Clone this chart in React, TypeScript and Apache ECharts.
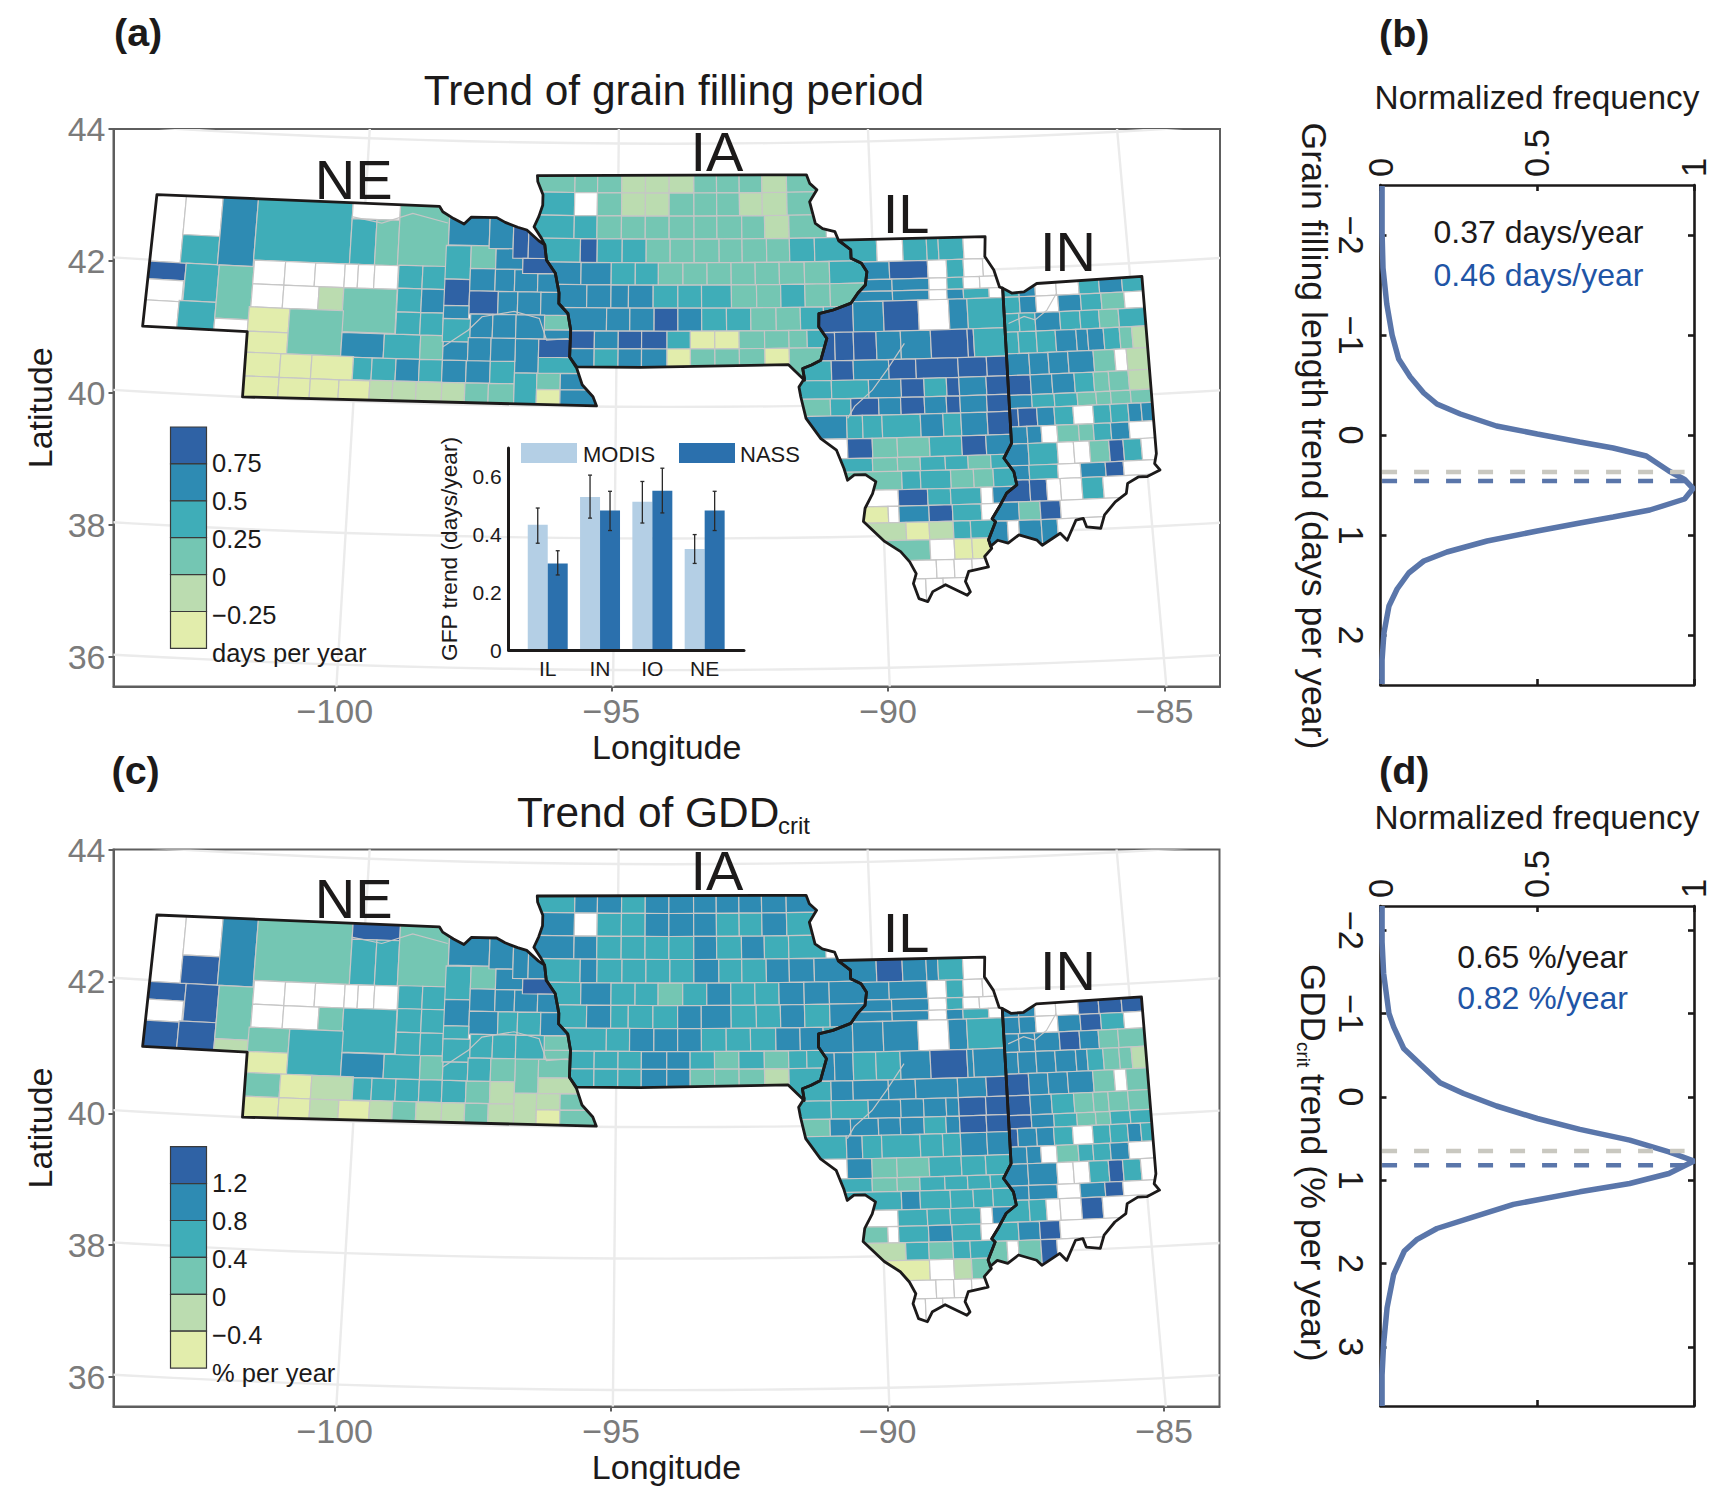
import React, { useEffect, useRef } from "react";
import * as echarts from "echarts";

const FONT = '"Liberation Sans", Arial, sans-serif';
const CLASS_COLORS = ["#ffffff", "#e2edac", "#bbdcb0", "#74c6b3", "#3fadb8", "#2e8bb3", "#2f62a5"];

// Row blocks: [north lat, south lat, lon edges, classes in panel (a), classes in panel (c)]
const NE_BLOCKS: any[] = [
  [43.2, 41.98, [-104.4, -103.55], "0", "0"],
  [41.98, 41.71, [-104.4, -103.43], "6", "6"],
  [41.71, 41.39, [-104.4, -103.45], "0", "0"],
  [41.39, 40.9, [-104.4, -103.5], "0", "6"],
  [43.2, 42.41, [-103.55, -102.82], "0", "0"],
  [42.41, 41.98, [-103.55, -102.82], "4", "6"],
  [41.98, 41.41, [-103.43, -102.78], "4", "6"],
  [41.41, 40.9, [-103.5, -102.78], "4", "6"],
  [43.2, 41.98, [-102.82, -102.12], "5", "5"],
  [41.98, 41.17, [-102.78, -102.1], "3", "3"],
  [41.17, 40.9, [-102.78, -102.13], "0", "2"],
  [43.2, 42.08, [-102.12, -100.24], "4", "3"],
  [43.2, 42.77, [-100.24, -99.3], "0", "6"],
  [42.77, 42.08, [-100.24, -99.75, -99.3], "43", "44"],
  [43.2, 42.05, [-99.3, -98.32], "3", "3"],
  [42.08, 41.72, [-102.1, -101.49, -100.9, -100.32, -100.06, -99.74, -99.28], "000000", "000000"],
  [41.72, 41.37, [-102.1, -101.49, -100.8, -100.32], "002", "003"],
  [41.72, 41.05, [-100.32, -99.28], "3", "4"],
  [41.37, 41.0, [-102.13, -101.34], "1", "3"],
  [41.0, 40.68, [-102.13, -101.34], "1", "1"],
  [41.37, 40.68, [-101.34, -100.3], "3", "4"],
  [41.04, 40.67, [-100.3, -99.48, -98.78, -98.34], "543", "543"],
  [40.68, 40.32, [-102.13, -101.45, -100.85, -100.05], "111", "312"],
  [40.32, 39.9, [-102.13, -101.45, -100.85, -100.3, -99.71], "1111", "1121"],
  [40.67, 40.33, [-100.05, -99.69, -99.23, -98.78, -98.34, -97.88, -97.42, -96.95], "4454554", "4444432"],
  [40.33, 39.9, [-99.71, -99.27, -98.82, -98.33, -97.89, -97.44, -96.95], "222233", "232232"],
  [40.5, 39.9, [-96.95, -96.52], "4", "2"],
  [41.02, 40.5, [-96.95, -96.5], "5", "3"],
  [40.5, 40.25, [-96.52, -96.07, -95.4], "35", "23"],
  [40.25, 39.9, [-96.52, -96.07, -95.2], "15", "13"],
  [40.74, 40.5, [-96.5, -95.5], "4", "2"],
  [41.02, 40.74, [-96.5, -95.7], "6", "3"],
  [41.16, 41.02, [-96.4, -95.7], "5", "3"],
  [41.38, 41.16, [-96.4, -95.7], "3", "3"],
  [42.09, 41.74, [-99.27, -98.8, -98.33], "44", "44"],
  [41.74, 41.38, [-99.27, -98.8, -98.33], "45", "44"],
  [41.38, 41.04, [-99.27, -98.8, -98.36], "44", "44"],
  [42.41, 41.9, [-98.36, -97.87], "4", "4"],
  [41.9, 41.5, [-98.36, -97.87], "6", "5"],
  [42.42, 42.07, [-97.87, -97.38], "3", "3"],
  [42.07, 41.73, [-97.87, -97.38, -97.0, -96.55], "555", "555"],
  [43.1, 42.42, [-98.32, -97.52], "5", "5"],
  [43.1, 42.38, [-97.52, -97.05], "5", "5"],
  [42.38, 42.07, [-97.38, -96.85], "5", "5"],
  [43.1, 42.24, [-97.05, -96.75, -96.2], "66", "55"],
  [42.24, 42.01, [-96.85, -96.0], "6", "6"],
  [42.01, 41.65, [-96.55, -95.9], "5", "5"],
  [41.73, 41.38, [-97.87, -97.31, -96.93, -96.48, -95.8], "6555", "5445"],
  [41.5, 41.3, [-98.36, -97.87], "5", "4"],
  [41.3, 40.95, [-98.36, -97.83], "4", "4"],
  [40.95, 40.67, [-98.34, -97.86], "5", "4"],
  [41.38, 41.02, [-97.83, -97.4, -96.95, -96.4], "555", "444"],
  [41.02, 40.67, [-97.86, -97.42, -96.95], "55", "43"],
];

const IA_BLOCKS: any[] = [
  [43.6, 43.25, [-96.8, -95.86, -95.41, -94.93, -94.46, -93.99, -93.5, -93.05, -92.6, -92.15, -91.66, -90.9], "33322233323", "45545555555"],
  [43.25, 42.9, [-96.8, -95.86, -95.41, -94.93, -94.46, -93.99, -93.5, -93.05, -92.6, -92.15, -91.66, -90.9], "40322333223", "50445554454"],
  [42.9, 42.55, [-96.8, -95.86, -95.41, -94.93, -94.46, -93.99, -93.5, -93.05, -92.56, -92.11, -91.63, -90.9], "44333333323", "55444454544"],
  [42.55, 42.19, [-96.8, -95.73, -95.4, -94.91, -94.44, -93.97, -93.5, -93.01, -92.56, -92.08, -91.63, -91.14, -90.3], "464433333344", "454444544555"],
  [42.19, 41.85, [-96.8, -95.71, -95.12, -94.65, -94.2, -93.72, -93.25, -92.78, -92.31, -91.84, -91.35, -90.86, -90.0], "554433333334", "454434544555"],
  [41.85, 41.5, [-96.5, -95.59, -95.12, -94.78, -94.3, -93.82, -93.36, -92.78, -92.29, -91.82, -91.35, -90.86, -90.0], "555544433433", "454445544545"],
  [41.5, 41.15, [-96.3, -95.2, -94.75, -94.28, -93.82, -93.36, -92.88, -92.41, -91.92, -91.45, -91.0, -90.5], "55565443344", "44555444554"],
  [41.15, 40.88, [-96.1, -95.43, -94.97, -94.52, -94.03, -93.58, -93.11, -92.64, -92.15, -91.68, -91.33, -90.9], "65664113334", "44455434344"],
  [40.88, 40.4, [-96.1, -95.43, -94.97, -94.52, -94.03, -93.58, -93.11, -92.64, -92.15, -91.68, -91.0], "5455133313", "4445533324"],
];

const IL_BLOCKS: any[] = [
  [42.6, 42.17, [-91, -89.92, -89.41, -88.94, -88.71, -88.22, -87.5], "404440", "565540"],
  [42.17, 41.9, [-91, -89.69, -88.94, -88.57, -88.24, -87.86, -87.5], "560400", "550400"],
  [41.9, 41.72, [-91, -89.65, -88.93, -88.58, -88.26, -87.94, -87.49], "550400", "550400"],
  [41.72, 41.57, [-91, -89.65, -88.94, -88.59, -88.27, -87.77, -87.5], "550540", "550540"],
  [41.57, 41.11, [-91.2, -90.43, -89.84, -89.16, -88.57, -88.21, -87.48], "656054", "555054"],
  [41.11, 40.68, [-91.3, -90.8, -90.44, -90.0, -89.53, -88.95, -88.24, -88.12, -87.47], "66655664", "55445655"],
  [40.68, 40.38, [-91.6, -90.88, -90.46, -89.78, -89.26, -88.45, -87.9, -87.46], "4656666", "4555556"],
  [40.38, 40.1, [-91.6, -90.89, -90.18, -89.56, -89.12, -88.69, -88.45, -87.93, -87.48], "44564656", "44555566"],
  [40.1, 39.84, [-91.6, -90.92, -90.53, -90.0, -89.58, -89.13, -88.71, -88.45, -87.94, -87.5], "346565656", "355554566"],
  [39.84, 39.49, [-91.6, -90.62, -90.32, -89.95, -89.22, -88.79, -88.45, -87.95, -87.49], "54445456", "45444455"],
  [39.49, 39.19, [-91.6, -90.62, -90.15, -89.68, -89.07, -88.46, -88.0, -87.52], "0633465", "0533444"],
  [39.19, 38.98, [-91, -90.16, -89.69, -89.26, -88.79, -88.36, -87.93, -87.4], "4334434", "4334444"],
  [38.98, 38.7, [-91, -89.62, -89.27, -88.7, -88.27, -87.9, -87.4], "344334", "454444"],
  [38.7, 38.45, [-91, -89.7, -89.15, -88.72, -88.15, -87.93, -87.4], "064405", "044405"],
  [38.45, 38.2, [-91, -89.9, -89.7, -89.14, -88.7, -88.16, -87.4], "105640", "304540"],
  [38.2, 37.93, [-91, -89.58, -89.15, -88.7, -88.38, -87.8], "21244", "24344"],
  [37.93, 37.62, [-91, -89.15, -88.7, -88.37, -87.9], "3011", "1023"],
  [37.62, 37.34, [-90, -89.05, -88.72, -88.39, -87.9], "0000", "0000"],
  [37.34, 36.9, [-90, -89.26, -88.94, -88.3], "000", "000"],
];

const IN_BLOCKS: any[] = [
  [41.9, 41.57, [-87.8, -87.19, -86.87, -86.46, -86.02, -85.62, -85.17, -84.5], "4500454", "5500666"],
  [41.57, 41.32, [-87.8, -87.19, -86.87, -86.44, -86.0, -85.6, -85.15, -84.5], "4505430", "5505640"],
  [41.32, 41.04, [-87.8, -87.22, -86.91, -86.43, -86.04, -85.67, -85.29, -84.5], "4454434", "5556533"],
  [41.04, 40.71, [-87.8, -87.26, -86.91, -86.54, -86.14, -85.92, -85.61, -85.3, -85.06, -84.5], "444555432", "555554332"],
  [40.71, 40.38, [-87.8, -87.08, -86.71, -86.33, -85.84, -85.43, -85.2, -84.5], "5555302", "6555303"],
  [40.38, 40.08, [-87.8, -87.08, -86.67, -86.24, -85.87, -85.58, -85.2, -84.5], "6554332", "6543333"],
  [40.08, 39.88, [-87.8, -87.08, -86.65, -86.21, -85.85, -85.57, -85.19, -84.5], "5443333", "6543344"],
  [39.88, 39.6, [-87.8, -87.36, -87.0, -86.67, -86.31, -85.93, -85.6, -85.26, -85.01, -84.5], "665404455", "655404454"],
  [39.6, 39.34, [-87.8, -87.21, -86.94, -86.64, -86.23, -85.95, -85.62, -85.27, -84.5], "55033450", "55034450"],
  [39.34, 39.01, [-87.8, -87.21, -86.66, -86.35, -86.05, -85.68, -85.41, -85.07, -84.5], "54003640", "55004640"],
  [39.01, 38.79, [-87.9, -87.22, -86.68, -86.25, -85.78, -85.44, -84.5], "540560", "550560"],
  [38.79, 38.46, [-88, -87.23, -86.91, -86.65, -86.25, -85.85, -84.5], "660040", "440060"],
  [38.46, 38.18, [-88.2, -87.46, -87.06, -86.68, -84.5], "5360", "4560"],
  [38.18, 37.6, [-88.2, -87.69, -87.48, -87.06, -86.76, -84.5], "50550", "30360"],
];

const NE_OUTLINE = [[-104.14, 42.99], [-98.53, 43.0], [-98.46, 42.92], [-98.24, 42.82], [-98.03, 42.74], [-97.89, 42.85], [-97.39, 42.85], [-97.22, 42.78], [-96.97, 42.71], [-96.79, 42.67], [-96.55, 42.51], [-96.43, 42.45], [-96.39, 42.22], [-96.21, 42.02], [-96.13, 41.72], [-96.13, 41.56], [-95.95, 41.41], [-95.89, 41.16], [-95.9, 40.75], [-95.76, 40.58], [-95.65, 40.33], [-95.44, 40.15], [-95.37, 40.01], [-102.12, 40.0], [-102.13, 40.99], [-104.16, 40.99]];
const IA_OUTLINE = [[-96.61, 43.5], [-91.26, 43.51], [-91.2, 43.38], [-91.06, 43.28], [-91.21, 43.1], [-91.11, 42.77], [-90.97, 42.69], [-90.73, 42.64], [-90.66, 42.5], [-90.43, 42.36], [-90.43, 42.23], [-90.23, 42.15], [-90.13, 42.02], [-90.17, 41.82], [-90.32, 41.7], [-90.46, 41.55], [-90.81, 41.45], [-91.09, 41.4], [-91.1, 41.2], [-90.95, 41.02], [-91.08, 40.69], [-91.26, 40.62], [-91.43, 40.57], [-91.4, 40.39], [-91.7, 40.63], [-94.54, 40.6], [-95.76, 40.6], [-95.9, 40.75], [-95.89, 41.16], [-95.95, 41.41], [-96.13, 41.56], [-96.13, 41.72], [-96.21, 42.02], [-96.39, 42.22], [-96.43, 42.45], [-96.5, 42.55], [-96.65, 42.72], [-96.56, 42.88], [-96.49, 43.05], [-96.49, 43.21], [-96.6, 43.41]];
const IL_OUTLINE = [[-90.66, 42.51], [-87.78, 42.5], [-87.81, 42.2], [-87.65, 41.99], [-87.56, 41.73], [-87.5, 41.71], [-87.52, 39.35], [-87.68, 39.13], [-87.51, 38.92], [-87.47, 38.72], [-87.67, 38.6], [-87.82, 38.4], [-87.97, 38.22], [-87.91, 38.17], [-88.06, 37.9], [-88.01, 37.77], [-88.15, 37.65], [-88.09, 37.49], [-88.46, 37.43], [-88.53, 37.28], [-88.45, 37.12], [-88.51, 37.07], [-88.9, 37.24], [-89.14, 37.14], [-89.24, 36.99], [-89.4, 37.04], [-89.49, 37.27], [-89.43, 37.42], [-89.54, 37.6], [-89.7, 37.76], [-89.99, 37.92], [-90.37, 38.23], [-90.33, 38.43], [-90.18, 38.65], [-90.11, 38.83], [-90.3, 38.94], [-90.51, 38.94], [-90.64, 38.86], [-90.7, 39.04], [-90.83, 39.32], [-91.12, 39.5], [-91.39, 39.81], [-91.48, 40.14], [-91.51, 40.29], [-91.4, 40.42], [-91.43, 40.57], [-91.26, 40.62], [-91.08, 40.69], [-90.95, 41.02], [-91.1, 41.2], [-91.09, 41.4], [-90.81, 41.45], [-90.46, 41.55], [-90.32, 41.7], [-90.17, 41.82], [-90.13, 42.02], [-90.23, 42.15], [-90.43, 42.23], [-90.43, 42.36]];
const IN_OUTLINE = [[-87.5, 41.71], [-87.33, 41.63], [-87.09, 41.64], [-86.83, 41.76], [-84.77, 41.79], [-84.8, 39.1], [-84.85, 38.95], [-84.76, 38.85], [-85.01, 38.76], [-85.18, 38.76], [-85.39, 38.67], [-85.43, 38.52], [-85.65, 38.4], [-85.87, 38.21], [-85.96, 38.01], [-86.22, 38.04], [-86.27, 38.17], [-86.41, 38.15], [-86.6, 37.85], [-86.72, 37.96], [-87.07, 37.79], [-87.16, 37.87], [-87.49, 37.96], [-87.7, 37.84], [-87.89, 37.89], [-88.03, 37.8], [-88.06, 37.9], [-87.91, 38.17], [-87.97, 38.22], [-87.82, 38.4], [-87.67, 38.6], [-87.47, 38.72], [-87.51, 38.92], [-87.68, 39.13], [-87.52, 39.35]];

// County lines that follow rivers
const RIVERS = [
  [[-98.34, 40.87], [-97.87, 41.13], [-97.61, 41.34], [-96.99, 41.43], [-96.5, 41.33], [-96.35, 41.0], [-95.94, 41.03]],
  [[-100.25, 42.8], [-99.65, 42.72], [-99.05, 42.88], [-98.35, 42.75]],
  [[-89.46, 40.92], [-89.82, 40.52], [-90.11, 40.22], [-90.46, 39.98], [-90.6, 39.8]],
  [[-87.43, 41.17], [-87.12, 41.27], [-86.91, 41.21], [-86.67, 41.35], [-86.46, 41.6]],
];

const MERIDIANS = [-100, -95, -90, -85];
const PARALLELS = [36, 38, 40, 42, 44];
const LON_TICKS = [-100, -95, -90, -85];
const LAT_TICKS = [36, 38, 40, 42, 44];

// Inset bars
const INSET_CATS = ["IL", "IN", "IO", "NE"];
const MODIS_VALS = [0.434, 0.53, 0.514, 0.35];
const MODIS_LOW = [0.37, 0.457, 0.44, 0.3];
const MODIS_HIGH = [0.492, 0.606, 0.584, 0.4];
const NASS_VALS = [0.3, 0.483, 0.552, 0.483];
const NASS_LOW = [0.26, 0.414, 0.475, 0.414];
const NASS_HIGH = [0.344, 0.55, 0.63, 0.55];

// Histogram curves: [normalized frequency, trend]
const CURVE_B = [[0.005, -2.49], [0.005, -2.03], [0.008, -1.67], [0.02, -1.31], [0.037, -1.0], [0.058, -0.76], [0.095, -0.58], [0.138, -0.42], [0.18, -0.31], [0.255, -0.21], [0.37, -0.09], [0.5, -0.01], [0.636, 0.07], [0.742, 0.13], [0.848, 0.21], [0.92, 0.36], [0.97, 0.445], [0.997, 0.535], [0.97, 0.64], [0.859, 0.75], [0.742, 0.82], [0.636, 0.88], [0.5, 0.96], [0.34, 1.06], [0.212, 1.17], [0.138, 1.26], [0.09, 1.38], [0.053, 1.54], [0.027, 1.71], [0.011, 1.98], [0.005, 2.25], [0.005, 2.49]];
const CURVE_D = [[0.005, -2.29], [0.005, -1.86], [0.01, -1.48], [0.027, -1.0], [0.042, -0.84], [0.074, -0.58], [0.127, -0.39], [0.19, -0.17], [0.265, -0.04], [0.37, 0.11], [0.5, 0.26], [0.636, 0.39], [0.795, 0.52], [0.92, 0.66], [1.0, 0.77], [0.92, 0.92], [0.795, 1.04], [0.636, 1.14], [0.424, 1.29], [0.297, 1.44], [0.18, 1.58], [0.117, 1.71], [0.076, 1.85], [0.042, 2.13], [0.021, 2.53], [0.01, 2.96], [0.005, 3.34], [0.005, 3.71]];

const LEGEND_A = ["0.75", "0.5", "0.25", "0", "\u22120.25"];
const LEGEND_C = ["1.2", "0.8", "0.4", "0", "\u22120.4"];

// Conic-like projection of lon/lat into the frame's axis coordinates
function project(lon: number, lat: number): number[] {
  const dl = lon + 93.95;
  const py = 176.6 + (43.5 - lat) * 65.8 - 0.15 * dl * dl;
  return [-93.92 + (dl * (py + 4911)) / 5597, 44 - (py - 129) / 66];
}

const minusFmt = (v: number) => (v < 0 ? "\u2212" + Math.abs(v) : String(v));

function stateSeries(xi: number, blocks: any[], outline: number[][], key: 3 | 4) {
  return {
    type: "custom",
    coordinateSystem: "cartesian2d",
    xAxisIndex: xi,
    yAxisIndex: xi,
    z: 3,
    silent: true,
    data: [[-94, 40]],
    renderItem: (_p: any, api: any) => {
      const toPx = (lon: number, lat: number) => api.coord(project(lon, lat));
      const children: any[] = [];
      blocks.forEach((b) => {
        const [n, s, edges] = b;
        const cls: string = b[key];
        for (let i = 0; i < edges.length - 1; i++) {
          children.push({
            type: "polygon",
            shape: { points: [toPx(edges[i], n), toPx(edges[i + 1], n), toPx(edges[i + 1], s), toPx(edges[i], s)] },
            style: { fill: CLASS_COLORS[+cls[i]], stroke: "#c6c6c6", lineWidth: 1.2 },
          });
        }
      });
      return {
        type: "group",
        clipPath: { type: "polygon", shape: { points: outline.map((p) => toPx(p[0], p[1])) } },
        children,
      };
    },
  };
}

function riverSeries(xi: number) {
  return {
    type: "custom",
    coordinateSystem: "cartesian2d",
    xAxisIndex: xi,
    yAxisIndex: xi,
    z: 3,
    silent: true,
    data: RIVERS.map((_, i) => [-94, 40, i]),
    renderItem: (p: any, api: any) => ({
      type: "polyline",
      shape: { points: RIVERS[p.dataIndex].map((q) => api.coord(project(q[0], q[1]))) },
      style: { fill: "none", stroke: "#c6c6c6", lineWidth: 1.2 },
    }),
  };
}

function outlineSeries(xi: number, outlines: number[][][]) {
  return {
    type: "custom",
    coordinateSystem: "cartesian2d",
    xAxisIndex: xi,
    yAxisIndex: xi,
    z: 4,
    silent: true,
    data: outlines.map((_, i) => [-94, 40, i]),
    renderItem: (p: any, api: any) => ({
      type: "polygon",
      shape: { points: outlines[p.dataIndex].map((q) => api.coord(project(q[0], q[1]))) },
      style: { fill: "none", stroke: "#1c1a1a", lineWidth: 2.8, lineJoin: "round" },
    }),
  };
}

function graticuleSeries(xi: number) {
  const lines: number[][][] = [];
  MERIDIANS.forEach((m) => {
    const pts: number[][] = [];
    for (let la = 34; la <= 46; la += 1) pts.push([m, la]);
    lines.push(pts);
  });
  PARALLELS.forEach((la) => {
    const pts: number[][] = [];
    for (let lo = -108; lo <= -80; lo += 1) pts.push([lo, la]);
    lines.push(pts);
  });
  return {
    type: "custom",
    coordinateSystem: "cartesian2d",
    xAxisIndex: xi,
    yAxisIndex: xi,
    z: 2,
    silent: true,
    data: [[-94, 40]],
    renderItem: (p: any, api: any) => ({
      type: "group",
      clipPath: { type: "rect", shape: { x: p.coordSys.x, y: p.coordSys.y, width: p.coordSys.width, height: p.coordSys.height } },
      children: lines.map((l) => ({
        type: "polyline",
        shape: { points: l.map((q) => api.coord(project(q[0], q[1]))) },
        style: { fill: "none", stroke: "#ebebeb", lineWidth: 2.4 },
      })),
    }),
  };
}

function mapAxes(i: number) {
  const x = {
    gridIndex: i, type: "value", min: -104, max: -84, position: "bottom",
    splitLine: { show: false },
    axisLine: { onZero: false, lineStyle: { color: "#5e5e5e", width: 2 } },
    axisTick: { show: true, length: 5, customValues: LON_TICKS, lineStyle: { color: "#5e5e5e", width: 2 } },
    axisLabel: { customValues: LON_TICKS, formatter: minusFmt, color: "#7b7b7b", fontSize: 34, fontFamily: FONT, margin: 7 },
    name: "Longitude", nameLocation: "middle", nameGap: 43,
    nameTextStyle: { color: "#1c1a1a", fontSize: 34, fontFamily: FONT },
  };
  const y = {
    gridIndex: i, type: "value", min: 35.553, max: 44, position: "left",
    splitLine: { show: false },
    axisLine: { onZero: false, lineStyle: { color: "#5e5e5e", width: 2 } },
    axisTick: { show: true, length: 5, customValues: LAT_TICKS, lineStyle: { color: "#5e5e5e", width: 2 } },
    axisLabel: { customValues: LAT_TICKS, color: "#7b7b7b", fontSize: 34, fontFamily: FONT, margin: 8 },
    name: "Latitude", nameLocation: "middle", nameGap: 55, nameRotate: 90,
    nameTextStyle: { color: "#1c1a1a", fontSize: 34, fontFamily: FONT },
  };
  return { x, y };
}

function histAxes(gi: number, min: number, max: number, ticks: number[]) {
  const black = { color: "#1c1a1a", width: 2.6 };
  const xTicks = [0, 0.5, 1];
  const xTop = {
    gridIndex: gi, type: "value", min: 0, max: 1, position: "top",
    splitLine: { show: false }, axisLine: { onZero: false, lineStyle: black },
    axisTick: { inside: true, length: 6, customValues: xTicks, lineStyle: black },
    axisLabel: { customValues: xTicks, rotate: -90, fontSize: 34.5, fontFamily: FONT, color: "#1c1a1a", margin: 8 },
  };
  const xBottom = {
    gridIndex: gi, type: "value", min: 0, max: 1, position: "bottom",
    splitLine: { show: false }, axisLine: { onZero: false, lineStyle: black },
    axisTick: { inside: true, length: 6, customValues: xTicks, lineStyle: black },
    axisLabel: { show: false },
  };
  const yLeft = {
    gridIndex: gi, type: "value", min, max, inverse: true, position: "left",
    splitLine: { show: false }, axisLine: { onZero: false, lineStyle: black },
    axisTick: { inside: true, length: 6, customValues: ticks, lineStyle: black },
    axisLabel: { customValues: ticks, rotate: -90, formatter: minusFmt, fontSize: 34.5, fontFamily: FONT, color: "#1c1a1a", margin: 12 },
  };
  const yRight = {
    gridIndex: gi, type: "value", min, max, inverse: true, position: "right",
    splitLine: { show: false }, axisLine: { onZero: false, lineStyle: black },
    axisTick: { inside: true, length: 6, customValues: ticks, lineStyle: black },
    axisLabel: { show: false },
  };
  return { xTop, xBottom, yLeft, yRight };
}

function histSeries(xi: number, yi: number, curve: number[][], meanA: number, meanB: number) {
  const dash = (v: number, color: string) => ({
    type: "line", xAxisIndex: xi, yAxisIndex: yi, symbol: "none", silent: true, z: 3,
    data: [[0.005, v], [0.97, v]],
    lineStyle: { color, width: 4.5, type: [15, 17] },
  });
  return [
    { type: "line", xAxisIndex: xi, yAxisIndex: yi, symbol: "none", silent: true, z: 2, data: curve, lineStyle: { color: "#5a76aa", width: 5.5 } },
    dash(meanA, "#c9c8c0"),
    dash(meanB, "#5a76aa"),
  ];
}

function barSeries(name: string, vals: number[], low: number[], high: number[], side: number, color: string) {
  const bw = 0.382;
  return {
    type: "custom", name, coordinateSystem: "cartesian2d", xAxisIndex: 2, yAxisIndex: 2, z: 6, silent: true,
    data: vals.map((v, i) => [i, v, low[i], high[i]]),
    renderItem: (_p: any, api: any) => {
      const c = api.value(0);
      const x0 = side < 0 ? c - bw : c;
      const x1 = x0 + bw;
      const tl = api.coord([x0, api.value(1)]);
      const br = api.coord([x1, 0]);
      const mid = api.coord([(x0 + x1) / 2, api.value(2)]);
      const top = api.coord([(x0 + x1) / 2, api.value(3)]);
      const line = (a: number, b: number, e: number, f: number) => ({
        type: "line", shape: { x1: a, y1: b, x2: e, y2: f }, style: { stroke: "#2a2a2a", lineWidth: 1.3 }, z2: 5,
      });
      return {
        type: "group",
        children: [
          { type: "rect", shape: { x: tl[0], y: tl[1], width: br[0] - tl[0], height: br[1] - tl[1] }, style: { fill: color } },
          line(mid[0], mid[1], top[0], top[1]),
          line(mid[0] - 2, mid[1], mid[0] + 2, mid[1]),
          line(top[0] - 2, top[1], top[0] + 2, top[1]),
        ],
      };
    },
  };
}

function txt(text: string, x: number, y: number, size: number, opts: any = {}) {
  return {
    type: "text", x, y, rotation: opts.rotation || 0, z: 20, silent: true,
    style: {
      text,
      fill: opts.fill || "#1c1a1a",
      font: `${opts.bold ? "bold " : ""}${size}px ${FONT}`,
      align: opts.align || "center",
      verticalAlign: opts.vAlign || "middle",
    },
  };
}

function legendRamp(top: number, labels: string[], unit: string) {
  const colors = [6, 5, 4, 3, 2, 1];
  const h = 36.9;
  const out: any[] = [];
  colors.forEach((c, i) => {
    out.push({
      type: "rect", z: 15, silent: true,
      shape: { x: 170.5, y: top + i * h, width: 36, height: h },
      style: { fill: CLASS_COLORS[c], stroke: "#3a3a3a", lineWidth: 1.2 },
    });
  });
  labels.forEach((l, i) => out.push(txt(l, 212, top + 36 + i * 38, 25.5, { align: "left" })));
  out.push(txt(unit, 212, top + 226, 25.5, { align: "left" }));
  return out;
}

function stateLabels(dy: number) {
  return [
    txt("NE", 353.6, 179 + dy, 56),
    txt("IA", 717, 151 + dy, 56),
    txt("IL", 906, 213 + dy, 56),
    txt("IN", 1068, 251 + dy, 56),
  ];
}

export default function App() {
  const ref = useRef<HTMLDivElement>(null);
  useEffect(() => {
    const chart = echarts.init(ref.current!, undefined, { renderer: "svg" });
    const a = mapAxes(0);
    const c = mapAxes(1);
    const b = histAxes(3, -2.5, 2.5, [-2, -1, 0, 1, 2]);
    const d = histAxes(4, -2.29, 3.71, [-2, -1, 0, 1, 2, 3]);
    const insetY = [0, 0.2, 0.4, 0.6];
    const option: any = {
      animation: false,
      backgroundColor: "#ffffff",
      textStyle: { fontFamily: FONT },
      grid: [
        { left: 113.5, top: 129, width: 1106.5, height: 557.5, show: true, borderColor: "#5e5e5e", borderWidth: 2, backgroundColor: "transparent" },
        { left: 113.5, top: 849.5, width: 1106, height: 557, show: true, borderColor: "#5e5e5e", borderWidth: 2, backgroundColor: "transparent" },
        { left: 508.6, top: 448, width: 235.4, height: 202 },
        { left: 1380.5, top: 185, width: 313.5, height: 500 },
        { left: 1380.5, top: 906, width: 313.5, height: 500 },
      ],
      xAxis: [
        a.x, c.x,
        {
          gridIndex: 2, type: "value", min: -0.748, max: 3.752, position: "bottom", z: 8,
          splitLine: { show: false },
          axisLine: { onZero: false, lineStyle: { color: "#1c1a1a", width: 3 } },
          axisTick: { show: false },
          axisLabel: { customValues: [0, 1, 2, 3], formatter: (v: number) => INSET_CATS[v], fontSize: 21, fontFamily: FONT, color: "#1c1a1a", margin: 8 },
        },
        b.xTop, b.xBottom, d.xTop, d.xBottom,
      ],
      yAxis: [
        a.y, c.y,
        {
          gridIndex: 2, type: "value", min: 0, max: 0.7, position: "left", z: 8,
          splitLine: { show: false },
          axisLine: { onZero: false, lineStyle: { color: "#1c1a1a", width: 3 } },
          axisTick: { show: false },
          axisLabel: { customValues: insetY, formatter: (v: number) => (v === 0 ? "0" : v.toFixed(1)), fontSize: 21, fontFamily: FONT, color: "#1c1a1a", margin: 7 },
          name: "GFP trend (days/year)", nameLocation: "middle", nameGap: 48, nameRotate: 90,
          nameTextStyle: { fontSize: 22.7, fontFamily: FONT, color: "#1c1a1a" },
        },
        b.yLeft, b.yRight, d.yLeft, d.yRight,
      ],
      series: [
        graticuleSeries(0),
        graticuleSeries(1),
        stateSeries(0, NE_BLOCKS, NE_OUTLINE, 3),
        stateSeries(0, IA_BLOCKS, IA_OUTLINE, 3),
        stateSeries(0, IL_BLOCKS, IL_OUTLINE, 3),
        stateSeries(0, IN_BLOCKS, IN_OUTLINE, 3),
        stateSeries(1, NE_BLOCKS, NE_OUTLINE, 4),
        stateSeries(1, IA_BLOCKS, IA_OUTLINE, 4),
        stateSeries(1, IL_BLOCKS, IL_OUTLINE, 4),
        stateSeries(1, IN_BLOCKS, IN_OUTLINE, 4),
        riverSeries(0),
        riverSeries(1),
        outlineSeries(0, [NE_OUTLINE, IA_OUTLINE, IL_OUTLINE, IN_OUTLINE]),
        outlineSeries(1, [NE_OUTLINE, IA_OUTLINE, IL_OUTLINE, IN_OUTLINE]),
        barSeries("MODIS", MODIS_VALS, MODIS_LOW, MODIS_HIGH, -1, "#b4cfe5"),
        barSeries("NASS", NASS_VALS, NASS_LOW, NASS_HIGH, 1, "#2b70ad"),
        ...histSeries(3, 3, CURVE_B, 0.37, 0.46),
        ...histSeries(5, 5, CURVE_D, 0.65, 0.82),
      ],
      graphic: [
        txt("(a)", 114, 32, 39.5, { bold: true, align: "left" }),
        txt("(b)", 1379, 33, 39.5, { bold: true, align: "left" }),
        txt("(c)", 111.5, 770, 39.5, { bold: true, align: "left" }),
        txt("(d)", 1379, 770, 39.5, { bold: true, align: "left" }),
        txt("Trend of grain filling period", 674, 90, 42.4),
        txt("Trend of GDD", 517, 812, 42.4, { align: "left" }),
        txt("crit", 778, 825, 24, { align: "left" }),
        ...stateLabels(0),
        ...stateLabels(719),
        ...legendRamp(427, LEGEND_A, "days per year"),
        ...legendRamp(1146.7, LEGEND_C, "% per year"),
        { type: "rect", z: 15, silent: true, shape: { x: 521, y: 443, width: 56, height: 20 }, style: { fill: "#b4cfe5" } },
        { type: "rect", z: 15, silent: true, shape: { x: 679, y: 443, width: 56, height: 20 }, style: { fill: "#2b70ad" } },
        txt("MODIS", 583, 454, 22, { align: "left" }),
        txt("NASS", 740, 454, 22, { align: "left" }),
        txt("Normalized frequency", 1537, 97.5, 33.4),
        txt("Normalized frequency", 1537, 817.5, 33.4),
        txt("Grain filling length trend (days per year)", 1314, 436, 35.7, { rotation: -Math.PI / 2 }),
        txt("GDD", 1313, 964, 35, { rotation: -Math.PI / 2, align: "left" }),
        txt("crit", 1303, 1042, 19, { rotation: -Math.PI / 2, align: "left" }),
        txt("trend (% per year)", 1313, 1074, 35.7, { rotation: -Math.PI / 2, align: "left" }),
        txt("0.37 days/year", 1538.5, 232, 32),
        txt("0.46 days/year", 1538.5, 274.5, 32, { fill: "#1f55a6" }),
        txt("0.65 %/year", 1542.5, 956.5, 32),
        txt("0.82 %/year", 1542.5, 998, 32, { fill: "#1f55a6" }),
      ],
    };
    chart.setOption(option);
    return () => chart.dispose();
  }, []);
  return <div ref={ref} style={{ position: "absolute", left: 0, top: 0, width: 1714, height: 1492 }} />;
}
